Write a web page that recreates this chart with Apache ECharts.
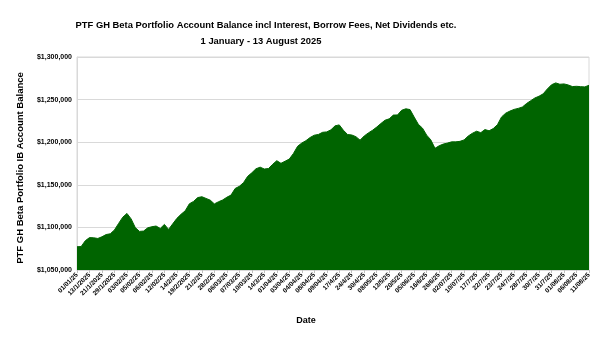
<!DOCTYPE html>
<html>
<head>
<meta charset="utf-8">
<script src="https://cdn.jsdelivr.net/npm/echarts@6/dist/echarts.min.js"></script>
<style>html,body{margin:0;padding:0;background:#fff;}#c{width:601px;height:339px;}</style>
</head>
<body>
<div id="c"></div>
<script>
const tickLabels = ['01/01/25','13/1/2025','21/1/2025','29/1/2025','03/02/25','05/02/25','06/02/25','12/02/25','14/2/25','19/2/2025',
  '21/2/25','28/2/25','06/03/25','07/03/25','10/03/25','14/3/25','01/04/25','03/04/25','04/04/25','08/04/25',
  '09/04/25','17/4/25','24/4/25','30/4/25','08/05/25','13/5/25','20/5/25','05/06/25','16/6/25','26/6/25',
  '02/07/25','10/07/25','17/7/25','22/7/25','23/7/25','24/7/25','28/7/25','30/7/25','31/7/25','01/08/25',
  '06/08/25','11/08/25'];
const pointsPerTick = 3;
const balance = [
  1077300,1077500,1084400,1088000,1087800,1087000,1089000,1091600,1092500,1097000,
  1104700,1112000,1116400,1110000,1099800,1095300,1095700,1099500,1100800,1101600,
  1098800,1103500,1097600,1104200,1110600,1115400,1119500,1127700,1130500,1135000,
  1136000,1134000,1132000,1127600,1130100,1132200,1135400,1137900,1145700,1148200,
  1152500,1159900,1164100,1168800,1170700,1168500,1169100,1174000,1178300,1175200,
  1177700,1180200,1186800,1195200,1199000,1201800,1205500,1208200,1209100,1211600,
  1212100,1214500,1219200,1220300,1214000,1209000,1208500,1206500,1202400,1207300,
  1210900,1214000,1217700,1221900,1225800,1227400,1231800,1232000,1237500,1239200,
  1238300,1229500,1221000,1216500,1208300,1202700,1192800,1195800,1197800,1199000,
  1200400,1200400,1201000,1202700,1207300,1210500,1212900,1211200,1214800,1213400,
  1216000,1220500,1229700,1234100,1236500,1238500,1239700,1241300,1245400,1248700,
  1251900,1254000,1256800,1262500,1267400,1269600,1268000,1268400,1267200,1265300,
  1265600,1265200,1264900,1266800
];
const categories = balance.map((v, i) => (i % pointsPerTick === 0 ? (tickLabels[i / pointsPerTick] || '') : ''));

const font = 'Liberation Sans, Arial';
const chart = echarts.init(document.getElementById('c'), null, {renderer: 'canvas'});
chart.setOption({
  animation: false,
  backgroundColor: '#ffffff',
  title: [
    {text: 'PTF GH Beta Portfolio Account Balance incl Interest, Borrow Fees, Net Dividends etc.', left: 261, top: 16, textAlign: 'center',
      textStyle: {fontFamily: font, fontSize: 9.4, fontWeight: 'bold', color: '#000'}},
    {text: '1 January - 13 August 2025', left: 256, top: 32, textAlign: 'center',
      textStyle: {fontFamily: font, fontSize: 9.4, fontWeight: 'bold', color: '#000'}},
    {text: 'Date', left: 301, top: 311, textAlign: 'center',
      textStyle: {fontFamily: font, fontSize: 9, fontWeight: 'bold', color: '#000'}}
  ],
  grid: {left: 77, right: 12, top: 57, bottom: 69, show: true, borderColor: '#d9d9d9', borderWidth: 1},
  xAxis: {
    type: 'category', data: categories, boundaryGap: false,
    axisLine: {lineStyle: {color: '#d9d9d9'}},
    axisTick: {show: true, interval: (i) => i % pointsPerTick === 0, length: 3, lineStyle: {color: '#bfbfbf'}},
    axisLabel: {interval: (i) => i % pointsPerTick === 0, rotate: 45, fontSize: 6.5, fontWeight: 'bold', fontFamily: font, color: '#000', margin: 4},
    splitLine: {show: false}
  },
  yAxis: {
    type: 'value', min: 1050000, max: 1300000, interval: 50000,
    name: 'PTF GH Beta Portfolio IB Account Balance', nameLocation: 'middle', nameGap: 52, nameRotate: 90,
    nameTextStyle: {fontFamily: font, fontSize: 9.5, fontWeight: 'bold', color: '#000', padding: [0, 9, 0, 0]},
    axisLine: {show: true, lineStyle: {color: '#d9d9d9'}},
    axisTick: {show: false},
    axisLabel: {fontSize: 7, fontWeight: 'bold', fontFamily: font, color: '#000', margin: 5,
      formatter: (v) => '$' + v.toLocaleString('en-US')},
    splitLine: {lineStyle: {color: '#d9d9d9'}}
  },
  series: [{
    type: 'line', data: balance, showSymbol: false, symbol: 'none',
    lineStyle: {color: '#006400', width: 1},
    areaStyle: {color: '#006400', opacity: 1, origin: 'start'}
  }]
});
</script>
</body>
</html>
